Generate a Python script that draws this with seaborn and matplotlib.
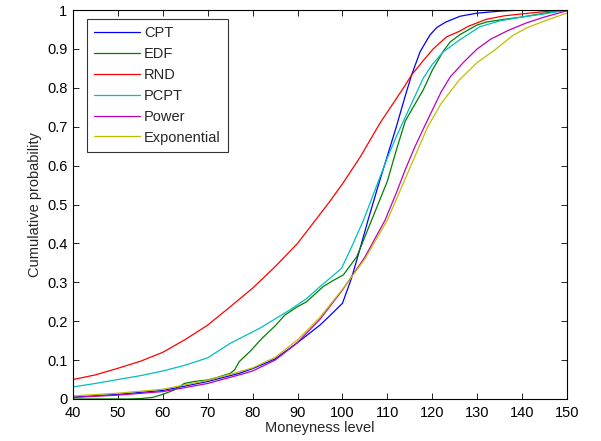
import pandas as pd
import matplotlib.pyplot as plt
import seaborn as sns
from matplotlib.ticker import FormatStrFormatter

sns.set_style("ticks")
plt.rcParams['font.family'] = ['Liberation Sans', 'DejaVu Sans']
plt.rcParams['font.size'] = 10.5

# Curvas de probabilidade acumulada
cpt_x = [40, 50, 60, 70, 77, 80, 85, 90, 95, 97, 100, 102, 104, 105.7, 108, 110, 112, 113, 114, 115.4,
         117.3, 119.5, 121, 123, 126.2, 130, 135, 140, 150]
cpt_y = [0.005, 0.012, 0.022, 0.045, 0.066, 0.078, 0.103, 0.145, 0.19, 0.212, 0.246, 0.31, 0.39, 0.46,
         0.55, 0.625, 0.70, 0.74, 0.78, 0.833, 0.893, 0.936, 0.955, 0.969, 0.984, 0.992, 0.997, 1.0, 1.0]

edf_x = [40, 52, 55, 57.7, 60, 62.5, 64.8, 67, 70, 72, 75, 76, 77, 79.4, 82, 85, 87.2, 89.8, 92, 95.7,
         98, 100.2, 103.2, 106.5, 110, 112, 114, 116, 118, 120, 122.5, 124, 126.2, 129.9, 132, 136,
         140, 145, 150]
edf_y = [0.0, 0.0, 0.001, 0.004, 0.012, 0.023, 0.04, 0.045, 0.049, 0.055, 0.066, 0.075, 0.096, 0.122,
         0.155, 0.188, 0.216, 0.236, 0.25, 0.289, 0.305, 0.319, 0.366, 0.46, 0.56, 0.64, 0.715, 0.755,
         0.795, 0.845, 0.895, 0.918, 0.937, 0.961, 0.969, 0.976, 0.982, 0.992, 1.0]

rnd_x = [40, 45, 50, 55, 60, 65, 70, 75, 80, 85, 90, 94, 97, 100, 104, 108.4, 111, 113.6, 115.4, 118,
         120.2, 123.2, 126, 128, 132, 136, 140, 145, 150]
rnd_y = [0.05, 0.062, 0.079, 0.097, 0.12, 0.153, 0.19, 0.237, 0.285, 0.34, 0.40, 0.46, 0.505, 0.553,
         0.623, 0.71, 0.755, 0.80, 0.833, 0.87, 0.90, 0.931, 0.945, 0.958, 0.976, 0.985, 0.99, 0.996, 1.0]

pcpt_x = [40, 45, 50, 55, 60, 65, 70, 75, 81.6, 88.3, 92, 95, 98, 99.8, 102, 104.7, 108, 110, 112, 114,
          116, 118, 120, 122.5, 126.2, 130.6, 135, 140, 145, 150]
pcpt_y = [0.031, 0.04, 0.05, 0.06, 0.072, 0.087, 0.106, 0.143, 0.182, 0.229, 0.258, 0.289, 0.318, 0.336,
          0.39, 0.46, 0.56, 0.62, 0.675, 0.725, 0.775, 0.825, 0.86, 0.893, 0.924, 0.957, 0.972, 0.982,
          0.99, 1.0]

power_x = [40, 50, 60, 70, 77, 80, 85, 89.8, 95, 100, 105, 109.5, 112, 114, 116, 118.4, 122, 124, 127,
           130, 133, 137, 141, 145, 150]
power_y = [0.004, 0.01, 0.019, 0.04, 0.062, 0.072, 0.1, 0.143, 0.205, 0.28, 0.365, 0.46, 0.53, 0.59,
           0.645, 0.704, 0.79, 0.828, 0.866, 0.9, 0.925, 0.948, 0.967, 0.982, 0.998]

expo_x = [40, 50, 60, 70, 77, 80, 85, 90, 95, 100, 105, 110, 113, 116, 119, 122, 126, 130, 134, 138,
          141, 145, 150]
expo_y = [0.008, 0.015, 0.025, 0.048, 0.07, 0.08, 0.107, 0.152, 0.21, 0.282, 0.36, 0.46, 0.54, 0.62,
          0.70, 0.76, 0.82, 0.865, 0.898, 0.935, 0.954, 0.972, 0.992]

series = [
    ('CPT', cpt_x, cpt_y),
    ('EDF', edf_x, edf_y),
    ('RND', rnd_x, rnd_y),
    ('PCPT', pcpt_x, pcpt_y),
    ('Power', power_x, power_y),
    ('Exponential', expo_x, expo_y),
]
cores = {'CPT': (0, 0, 1), 'EDF': (0, 0.5, 0), 'RND': (1, 0, 0),
         'PCPT': (0, 0.75, 0.75), 'Power': (0.75, 0, 0.75), 'Exponential': (0.75, 0.75, 0)}

linhas = []
for nome, xs, ys in series:
    for x, y in zip(xs, ys):
        linhas.append({'Modelo': nome, 'Moneyness': x, 'Prob': y})
df = pd.DataFrame(linhas)

fig = plt.figure(figsize=(6.01, 4.41), dpi=100)
ax = fig.add_axes([73 / 601, 42 / 441, 494 / 601, 389 / 441])
sns.lineplot(data=df, x='Moneyness', y='Prob', hue='Modelo', palette=cores,
             estimator=None, sort=True, linewidth=0.9, ax=ax)

ax.set_xlim(40, 150)
ax.set_ylim(0, 1)
ax.set_xticks(range(40, 151, 10))
ax.set_yticks([i / 10 for i in range(11)])
ax.yaxis.set_major_formatter(FormatStrFormatter('%g'))
ax.tick_params(direction='in', length=4, width=0.6, top=True, right=True, labelsize=10.5, colors='black')
ax.tick_params(axis='x', pad=5)
ax.tick_params(axis='y', pad=4)
for s in ax.spines.values():
    s.set_visible(True)
    s.set_linewidth(0.8)
    s.set_color('black')
ax.set_xlabel('Moneyness level', fontsize=10.5, labelpad=1)
ax.set_ylabel('Cumulative probability', fontsize=10.5, labelpad=4)

leg = ax.legend(loc='upper left', bbox_to_anchor=(14 / 494, 1 - 9 / 389), borderaxespad=0,
                frameon=True, fancybox=False, edgecolor='black', fontsize=10.5,
                handlelength=3.1, handletextpad=0.3, labelspacing=0.47, borderpad=0.5)
leg.get_frame().set_linewidth(0.8)

plt.savefig('out.png', dpi=100)
